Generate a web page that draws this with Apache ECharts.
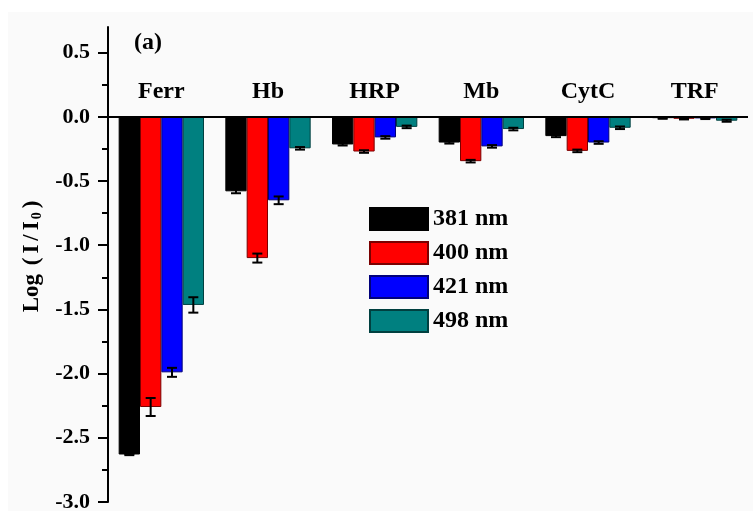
<!DOCTYPE html>
<html><head><meta charset="utf-8">
<script src="https://cdn.jsdelivr.net/npm/echarts@6/dist/echarts.min.js"></script>
<style>html,body{margin:0;padding:0;background:#fff}#c{width:753px;height:511px}</style>
</head><body><div id="c"></div>
<script>
const categories = ['Ferr','Hb','HRP','Mb','CytC','TRF'];
const seriesNames = ['381 nm','400 nm','421 nm','498 nm'];
const v381 = [-2.63, -0.58, -0.215, -0.20, -0.15, -0.01];
const v400 = [-2.26, -1.10, -0.27, -0.345, -0.265, -0.015];
const v421 = [-1.99, -0.65, -0.16, -0.23, -0.20, -0.012];
const v498 = [-1.465, -0.245, -0.078, -0.095, -0.085, -0.03];
const e381 = [0.005, 0.015, 0.008, 0.008, 0.008, 0.005];
const e400 = [0.07, 0.035, 0.01, 0.01, 0.01, 0.005];
const e421 = [0.035, 0.03, 0.01, 0.01, 0.01, 0.005];
const e498 = [0.06, 0.01, 0.01, 0.01, 0.01, 0.008];
const majorTicks = [-3.0,-2.5,-2.0,-1.5,-1.0,-0.5,0.0,0.5];
const minorTicks = [-2.75,-2.25,-1.75,-1.25,-0.75,-0.25,0.25];

const values = [v381, v400, v421, v498];
const errs = [e381, e400, e421, e498];
const colors = ['#000000','#ff0000','#0000ff','#008080'];
const borders = ['#000000','#7a0000','#00007a','#004040'];
const FONT = '"Liberation Serif", "Times New Roman", serif';

const errData = [];
values.forEach((arr, s) => arr.forEach((v, c) => errData.push([c, s, v, errs[s][c]])));

const chart = echarts.init(document.getElementById('c'));
const barSeries = values.map((arr, s) => ({
  name: seriesNames[s], type: 'bar', data: arr,
  barGap: '0%', barCategoryGap: '20%',
  itemStyle: { color: colors[s], borderColor: borders[s], borderWidth: 1 },
  xAxisIndex: 0, yAxisIndex: 0
}));
barSeries[0].markLine = {
  silent: true, symbol: ['none', 'none'], label: { show: false }, z: 20,
  lineStyle: { color: '#000', width: 2, type: 'solid' },
  data: [{ yAxis: 0 }]
};

const nameRich = {
  a: { fontFamily: FONT, fontWeight: 'bold', fontSize: 23, color: '#000', padding: [0, 1] },
  b: { fontFamily: FONT, fontWeight: 'bold', fontSize: 23, color: '#000', padding: [0, 2] },
  s: { fontFamily: FONT, fontWeight: 'bold', fontSize: 14, color: '#000', padding: [10, 2, 0, 0] }
};

chart.setOption({
  backgroundColor: '#ffffff',
  animation: false,
  graphic: [
    { type: 'rect', left: 8, top: 12, z: -10, shape: { width: 745, height: 499 }, style: { fill: '#fafafa' } },
    { type: 'text', left: 134, top: 31, style: { text: '(a)', font: 'bold 24px ' + FONT, fill: '#000' } },
    { type: 'text', x: 32, y: 256, rotation: Math.PI / 2,
      style: { text: '{a|Log }{b|(}{b|I}{b|/}{b|I}{s|0}{b|)}', rich: nameRich, align: 'center', verticalAlign: 'middle' } }
  ],
  grid: { left: 108, right: 5, top: 27, bottom: 9, containLabel: false, outerBoundsMode: 'none' },
  legend: {
    orient: 'vertical', left: 364, top: 202, itemWidth: 58, itemHeight: 22, itemGap: 10,
    icon: 'rect', data: seriesNames,
    textStyle: { fontFamily: FONT, fontWeight: 'bold', fontSize: 24, color: '#000' }
  },
  xAxis: {
    type: 'category', data: categories, position: 'top',
    axisLine: { show: false, onZero: false },
    axisTick: { show: false },
    axisLabel: { fontFamily: FONT, fontWeight: 'bold', fontSize: 24, color: '#000', margin: -77 },
    splitLine: { show: false }
  },
  yAxis: [{
    type: 'value', min: -3.0, max: 0.7, interval: 0.5,
    axisLine: { show: true, lineStyle: { color: '#000', width: 2 } },
    axisTick: { show: true, length: 10, inside: false, customValues: majorTicks, lineStyle: { color: '#000', width: 2 } },
    axisLabel: { customValues: majorTicks, formatter: v => v.toFixed(1), fontFamily: FONT, fontWeight: 'bold', fontSize: 22, color: '#000', margin: 18 },
    splitLine: { show: false }
  }, {
    type: 'value', min: -3.0, max: 0.7, interval: 0.5, position: 'left',
    axisLine: { show: false },
    axisTick: { show: true, length: 6, customValues: minorTicks, lineStyle: { color: '#000', width: 2 } },
    axisLabel: { show: false },
    splitLine: { show: false }
  }],
  series: barSeries.concat([{
    type: 'custom', name: 'err', xAxisIndex: 0, yAxisIndex: 0, z: 10,
    data: errData,
    encode: { x: 0, y: 2 },
    renderItem: function (params, api) {
      const c = api.value(0), s = api.value(1), v = api.value(2), e = api.value(3);
      const band = api.size([1, 0])[0];
      const w = band * 0.8 / 4;
      const base = api.coord([c, v]);
      const x = base[0] + (s - 1.5) * w;
      const y1 = api.coord([c, v - e])[1];
      const y2 = api.coord([c, v + e])[1];
      const cap = 5;
      const st = { stroke: '#000', lineWidth: 2 };
      return { type: 'group', children: [
        { type: 'line', shape: { x1: x, y1: y1, x2: x, y2: y2 }, style: st },
        { type: 'line', shape: { x1: x - cap, y1: y1, x2: x + cap, y2: y1 }, style: st },
        { type: 'line', shape: { x1: x - cap, y1: y2, x2: x + cap, y2: y2 }, style: st }
      ]};
    }
  }])
});
</script></body></html>
